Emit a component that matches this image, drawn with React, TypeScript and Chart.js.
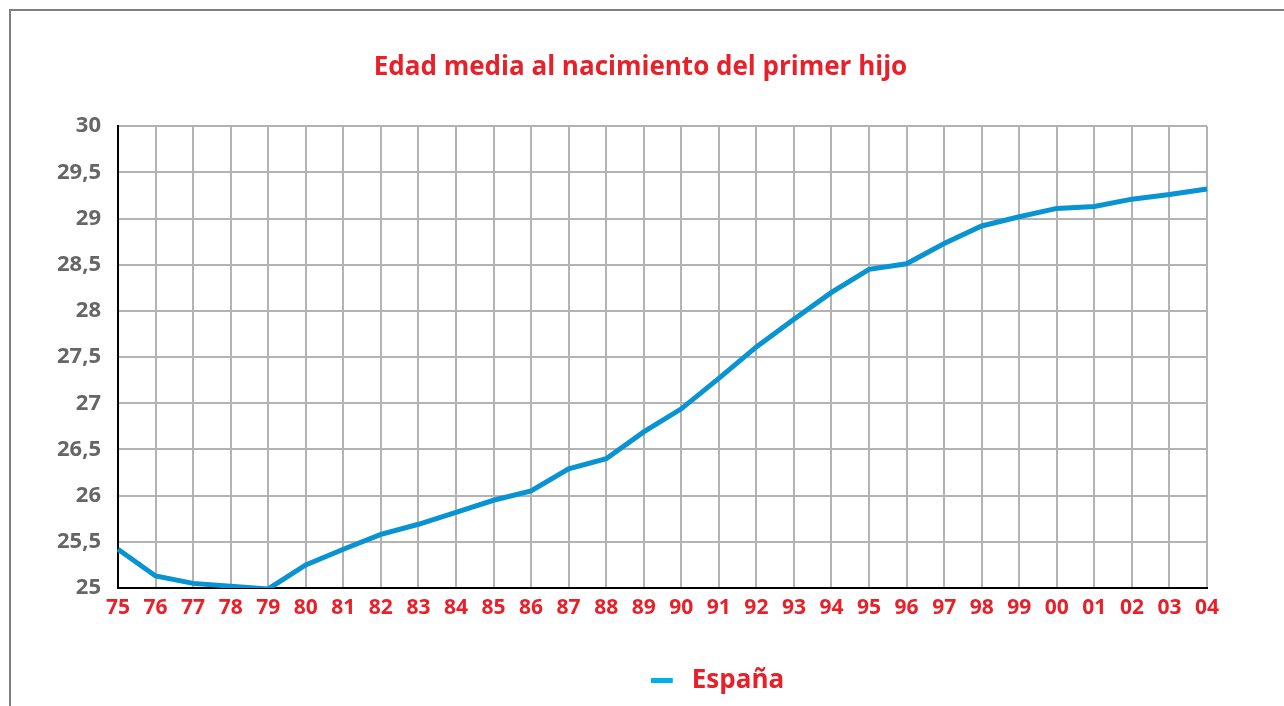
import React, { useEffect, useRef } from "react";
import { Chart, registerables } from "chart.js";

Chart.register(...registerables);

const title = "Edad media al nacimiento del primer hijo";
const seriesName = "España";
const years = ["75","76","77","78","79","80","81","82","83","84","85","86","87","88","89","90","91","92","93","94","95","96","97","98","99","00","01","02","03","04"];
const ages = [25.42,25.13,25.05,25.02,24.99,25.25,25.42,25.58,25.69,25.82,25.95,26.05,26.29,26.4,26.69,26.94,27.27,27.61,27.91,28.2,28.45,28.51,28.73,28.92,29.02,29.11,29.13,29.21,29.26,29.32];
const yMin = 25;
const yMax = 30;
const yStep = 0.5;

const FONT = "'Open Sans', 'Noto Sans', sans-serif";
const RED = "#e8202a";

function makeLegendMarker(): HTMLCanvasElement {
  const c = document.createElement("canvas");
  c.width = 28;
  c.height = 6;
  const ctx = c.getContext("2d");
  if (ctx) {
    ctx.fillStyle = "#00aeef";
    ctx.fillRect(0, 0, 22, 5);
  }
  return c;
}

const shiftBoxes = {
  id: "shiftBoxes",
  afterLayout(chart: any) {
    const lg = chart.legend;
    if (lg) {
      lg.left += 114;
      lg.right += 114;
    }
    const t = chart.titleBlock;
    if (t) {
      t.left += 37;
      t.right += 37;
    }
  },
};

export default function App() {
  const ref = useRef<HTMLCanvasElement | null>(null);
  useEffect(() => {
    if (!ref.current) return;
    const marker = makeLegendMarker();
    const chart = new Chart(ref.current, {
      type: "line",
      data: {
        labels: years,
        datasets: [
          {
            label: seriesName,
            data: ages,
            borderColor: "#0893d2",
            backgroundColor: "#00aeef",
            borderWidth: 5,
            pointRadius: 0,
            tension: 0,
            fill: false,
          },
        ],
      },
      plugins: [shiftBoxes],
      options: {
        responsive: false,
        animation: false,
        layout: { padding: { left: 0, right: 77, top: 0, bottom: 2 } },
        plugins: {
          title: {
            display: true,
            text: title,
            color: RED,
            font: { size: 26, weight: "bold", family: FONT },
            padding: { top: 52, bottom: 43 },
          },
          legend: {
            position: "bottom",
            labels: {
              usePointStyle: true,
              pointStyle: marker,
              pointStyleWidth: 28,
              color: RED,
              font: { size: 26, weight: "bold", family: FONT },
              padding: 10,
              generateLabels: (c: any) => {
                const items = Chart.defaults.plugins.legend.labels.generateLabels(c);
                return items.map((it: any) => ({ ...it, pointStyle: marker, lineWidth: 0 }));
              },
            },
          },
          tooltip: { enabled: false },
        },
        scales: {
          x: {
            type: "category",
            offset: false,
            grid: { color: "#b3b3b3", lineWidth: 2, drawTicks: false },
            border: { color: "#000", width: 2 },
            ticks: {
              color: RED,
              font: { size: 21, weight: "bold", family: FONT },
              padding: 7,
              maxRotation: 0,
              autoSkip: false,
            },
            afterFit: (s: any) => {
              s.height = 70;
            },
          },
          y: {
            min: yMin,
            max: yMax,
            grid: { color: "#b3b3b3", lineWidth: 2, drawTicks: false },
            border: { color: "#000", width: 2 },
            ticks: {
              stepSize: yStep,
              color: "#666666",
              font: { size: 22, weight: "bold", family: FONT },
              padding: 17,
              callback: (v: any) => String(Number(v)).replace(".", ","),
            },
            afterFit: (s: any) => {
              s.width = 118;
            },
          },
        },
      },
    } as any);
    return () => chart.destroy();
  }, []);

  return (
    <div style={{ position: "fixed", left: 0, top: 0, width: 1284, height: 706, background: "#fff", overflow: "hidden" }}>
      <div
        style={{
          position: "absolute",
          left: 9,
          top: 9,
          width: 1400,
          height: 900,
          border: "2px solid #7f7f7f",
          boxSizing: "border-box",
        }}
      />
      <canvas ref={ref} width={1284} height={706} style={{ position: "absolute", left: 0, top: 0 }} />
    </div>
  );
}
